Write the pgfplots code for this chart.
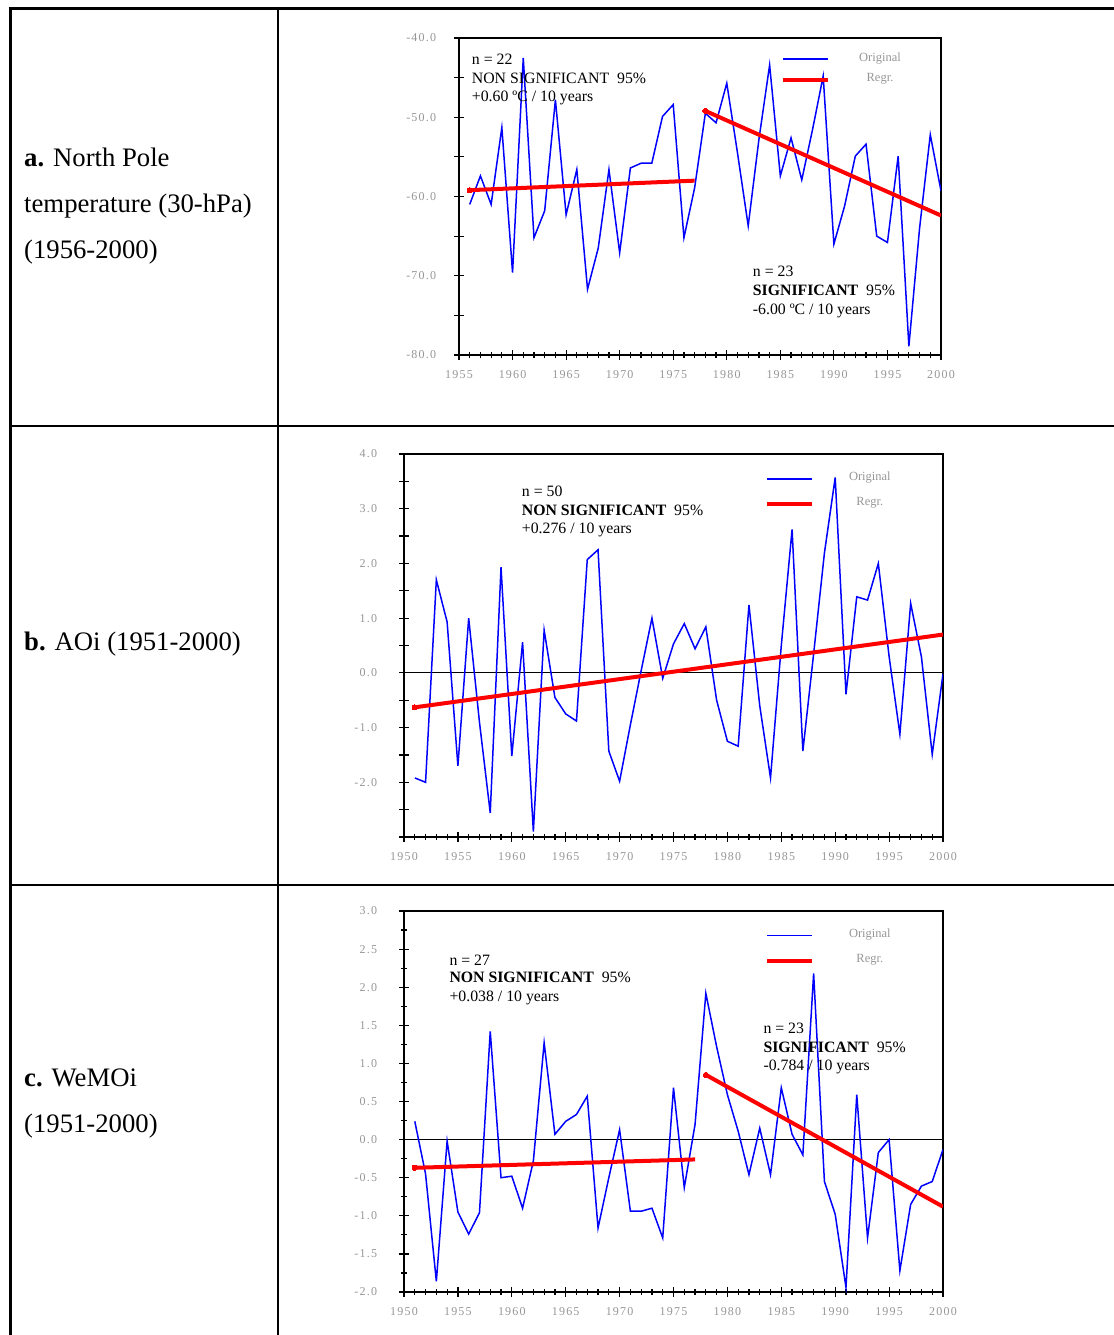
\documentclass[border=0pt]{standalone}
\usepackage{fontspec}
\setmainfont{Liberation Serif}
\newfontfamily\tickfont[LetterSpace=10]{Liberation Serif}
\usepackage{pgfplots}
\pgfplotsset{compat=1.18}

\definecolor{myblue}{RGB}{0,0,255}
\definecolor{myred}{RGB}{255,0,0}
\definecolor{tickgray}{RGB}{150,150,150}

\newcommand\labfont{\fontsize{26.7bp}{30bp}\selectfont}
\newcommand\annfont{\fontsize{15.8bp}{19bp}\selectfont}
\newcommand\legfont{\fontsize{12.5bp}{14bp}\selectfont}
\newcommand\tickfs{\tickfont\fontsize{12bp}{14bp}\selectfont}

\pgfplotsset{
  panel/.style={
    scale only axis, anchor=south west,
    axis line style={line width=1.6bp, black},
    tick align=center, tick pos=left,
    major tick length=9.5bp, minor tick length=6bp,
    every tick/.style={black, line width=1.2bp},
    /pgf/number format/assume math mode=true,
    ticklabel style={font=\tickfs, text=tickgray, inner sep=0pt},
    xticklabel style={anchor=north, yshift=-11bp},
    minor x tick num=4,
    legend image code/.code={\draw[##1] (0bp,0bp) -- (45bp,0bp);},
    legend style={draw=none, fill=none, inner sep=0pt, outer sep=0pt,
      anchor=north west, font=\legfont, text=tickgray,
      nodes={inner sep=0pt, text height=5bp, text depth=1bp}},
    legend cell align=center,
  },
  regr/.style={myred, line width=4bp, mark=*, mark indices={1}, mark size=2.6bp,
    mark options={solid, fill=myred, draw=myred, line width=0pt}},
}

\begin{document}
\begin{tikzpicture}
\useasboundingbox (0,0) rectangle (1114bp,-1335bp);
% table rules
\draw[line width=3bp] (10bp,-7bp) -- (10bp,-1335bp);
\draw[line width=3bp] (8.5bp,-8.5bp) -- (1114bp,-8.5bp);
\draw[line width=2bp] (277.5bp,-8.5bp) -- (277.5bp,-1335bp);
\draw[line width=2bp] (10bp,-425.5bp) -- (1114bp,-425.5bp);
\draw[line width=2bp] (10bp,-884.5bp) -- (1114bp,-884.5bp);

% row labels
\node[anchor=base west, inner sep=0pt, font=\labfont] at (24bp,-166bp) {\textbf{a.} North Pole};
\node[anchor=base west, inner sep=0pt, font=\labfont] at (24bp,-212bp) {temperature (30-hPa)};
\node[anchor=base west, inner sep=0pt, font=\labfont] at (24bp,-258bp) {(1956-2000)};
\node[anchor=base west, inner sep=0pt, font=\labfont] at (24bp,-650bp) {\textbf{b.} AOi (1951-2000)};
\node[anchor=base west, inner sep=0pt, font=\labfont] at (24bp,-1086bp) {\textbf{c.} WeMOi};
\node[anchor=base west, inner sep=0pt, font=\labfont] at (24bp,-1132bp) {(1951-2000)};

% ---------------- a ----------------
\begin{axis}[panel, at={(459bp,-355bp)}, width=482bp, height=317bp,
  xmin=1955, xmax=2000, ymin=-80, ymax=-40,
  xtick={1955,1960,...,2000},
  xticklabels={1955,1960,1965,1970,1975,1980,1985,1990,1995,2000},
  ytick={-80,-75,...,-40},
  yticklabels={-80.0,{},-70.0,{},-60.0,{},-50.0,{},-40.0},
  yticklabel style={anchor=east, xshift=-18bp},
  legend style={at={(0.6674,0.943)}, column sep=29.5bp, row sep=14.5bp}]
\addplot[myblue, line width=1.5bp] table[row sep=\\] {
x y\\
1956 -61.0\\ 1957 -57.4\\ 1958 -61.0\\ 1959 -51.3\\ 1960 -69.6\\
1961 -42.5\\ 1962 -65.2\\ 1963 -61.8\\ 1964 -47.8\\ 1965 -62.3\\
1966 -56.6\\ 1967 -71.7\\ 1968 -66.5\\ 1969 -56.6\\ 1970 -67.1\\
1971 -56.4\\ 1972 -55.8\\ 1973 -55.8\\ 1974 -49.9\\ 1975 -48.4\\
1976 -65.2\\ 1977 -58.9\\ 1978 -49.5\\ 1979 -50.7\\ 1980 -45.7\\
1981 -54.5\\ 1982 -63.7\\ 1983 -52.8\\ 1984 -43.4\\ 1985 -57.4\\
1986 -52.6\\ 1987 -57.9\\ 1988 -51.6\\ 1989 -44.8\\ 1990 -66.0\\
1991 -61.2\\ 1992 -54.9\\ 1993 -53.4\\ 1994 -65.0\\ 1995 -65.8\\
1996 -54.9\\ 1997 -78.9\\ 1998 -64.0\\ 1999 -52.2\\ 2000 -59.3\\
};
\addlegendentry{Original}
\addplot[regr] coordinates {(1956,-59.2) (1977,-58.0)};
\addlegendentry{Regr.}
\addplot[regr, forget plot] coordinates {(1978,-49.2) (2000,-62.4)};
\end{axis}

% ---------------- b ----------------
\begin{axis}[panel, at={(404bp,-837bp)}, width=539bp, height=383bp,
  xmin=1950, xmax=2000, ymin=-3, ymax=4,
  xtick={1950,1955,...,2000},
  xticklabels={1950,1955,1960,1965,1970,1975,1980,1985,1990,1995,2000},
  ytick={-3,-2.5,...,4},
  yticklabels={{},{},-2.0,{},-1.0,{},0.0,{},1.0,{},2.0,{},3.0,{},4.0},
  yticklabel style={anchor=east, xshift=-22bp},
  legend style={at={(0.6698,0.943)}, column sep=35bp, row sep=19bp}]
\addplot[black, line width=1.2bp, forget plot] coordinates {(1950,0) (2000,0)};
\addplot[myblue, line width=1.5bp] table[row sep=\\] {
x y\\
1951 -1.92\\ 1952 -2.00\\ 1953 1.70\\ 1954 0.93\\ 1955 -1.70\\
1956 1.00\\ 1957 -0.90\\ 1958 -2.56\\ 1959 1.93\\ 1960 -1.52\\
1961 0.56\\ 1962 -2.90\\ 1963 0.78\\ 1964 -0.45\\ 1965 -0.75\\
1966 -0.88\\ 1967 2.07\\ 1968 2.25\\ 1969 -1.43\\ 1970 -1.98\\
1971 -0.95\\ 1972 0.04\\ 1973 1.00\\ 1974 -0.10\\ 1975 0.53\\
1976 0.90\\ 1977 0.44\\ 1978 0.84\\ 1979 -0.50\\ 1980 -1.25\\
1981 -1.34\\ 1982 1.24\\ 1983 -0.60\\ 1984 -1.92\\ 1985 0.50\\
1986 2.62\\ 1987 -1.43\\ 1988 0.35\\ 1989 2.19\\ 1990 3.57\\
1991 -0.39\\ 1992 1.39\\ 1993 1.33\\ 1994 2.00\\ 1995 0.30\\
1996 -1.12\\ 1997 1.27\\ 1998 0.29\\ 1999 -1.49\\ 2000 -0.02\\
};
\addlegendentry{Original}
\addplot[regr] coordinates {(1951,-0.63) (2000,0.70)};
\addlegendentry{Regr.}
\end{axis}

% ---------------- c ----------------
\begin{axis}[panel, at={(404bp,-1292bp)}, width=539bp, height=381bp,
  xmin=1950, xmax=2000, ymin=-2, ymax=3,
  xtick={1950,1955,...,2000},
  xticklabels={1950,1955,1960,1965,1970,1975,1980,1985,1990,1995,2000},
  ytick={-2,-1.5,...,3}, minor y tick num=1,
  yticklabels={-2.0,-1.5,-1.0,-0.5,0.0,0.5,1.0,1.5,2.0,2.5,3.0},
  yticklabel style={anchor=east, xshift=-22bp},
  legend style={at={(0.6698,0.943)}, column sep=35bp, row sep=19bp}]
\addplot[black, line width=1.2bp, forget plot] coordinates {(1950,0) (2000,0)};
\addplot[myblue, line width=1.5bp] table[row sep=\\] {
x y\\
1951 0.24\\ 1952 -0.45\\ 1953 -1.86\\ 1954 -0.02\\ 1955 -0.95\\
1956 -1.24\\ 1957 -0.96\\ 1958 1.42\\ 1959 -0.50\\ 1960 -0.48\\
1961 -0.90\\ 1962 -0.28\\ 1963 1.27\\ 1964 0.07\\ 1965 0.24\\
1966 0.33\\ 1967 0.57\\ 1968 -1.16\\ 1969 -0.50\\ 1970 0.13\\
1971 -0.94\\ 1972 -0.94\\ 1973 -0.90\\ 1974 -1.29\\ 1975 0.68\\
1976 -0.63\\ 1977 0.20\\ 1978 1.92\\ 1979 1.22\\ 1980 0.59\\
1981 0.11\\ 1982 -0.46\\ 1983 0.15\\ 1984 -0.46\\ 1985 0.68\\
1986 0.07\\ 1987 -0.20\\ 1988 2.18\\ 1989 -0.55\\ 1990 -0.98\\
1991 -1.94\\ 1992 0.59\\ 1993 -1.29\\ 1994 -0.17\\ 1995 0.00\\
1996 -1.72\\ 1997 -0.85\\ 1998 -0.61\\ 1999 -0.55\\ 2000 -0.13\\
};
\addlegendentry{Original}
\addplot[regr] coordinates {(1951,-0.37) (1977,-0.26)};
\addlegendentry{Regr.}
\addplot[regr, forget plot] coordinates {(1978,0.85) (2000,-0.88)};
\end{axis}

% annotations
\node[anchor=base west, inner sep=0pt, font=\annfont] at (471.7bp,-64.5bp) {n = 22};
\node[anchor=base west, inner sep=0pt, font=\annfont] at (471.7bp,-83bp) {NON SIGNIFICANT\ \ 95\%};
\node[anchor=base west, inner sep=0pt, font=\annfont] at (471.7bp,-101.5bp) {+0.60 ºC / 10 years};
\node[anchor=base west, inner sep=0pt, font=\annfont] at (752.7bp,-276.5bp) {n = 23};
\node[anchor=base west, inner sep=0pt, font=\annfont] at (752.7bp,-295.5bp) {\textbf{SIGNIFICANT}\ \ 95\%};
\node[anchor=base west, inner sep=0pt, font=\annfont] at (752.7bp,-314.5bp) {-6.00 ºC / 10 years};

\node[anchor=base west, inner sep=0pt, font=\annfont] at (521.7bp,-496.5bp) {n = 50};
\node[anchor=base west, inner sep=0pt, font=\annfont] at (521.7bp,-515bp) {\textbf{NON SIGNIFICANT}\ \ 95\%};
\node[anchor=base west, inner sep=0pt, font=\annfont] at (521.7bp,-533.5bp) {+0.276 / 10 years};

\node[anchor=base west, inner sep=0pt, font=\annfont] at (449.3bp,-965bp) {n = 27};
\node[anchor=base west, inner sep=0pt, font=\annfont] at (449.3bp,-982.5bp) {\textbf{NON SIGNIFICANT}\ \ 95\%};
\node[anchor=base west, inner sep=0pt, font=\annfont] at (449.3bp,-1001.5bp) {+0.038 / 10 years};
\node[anchor=base west, inner sep=0pt, font=\annfont] at (763.3bp,-1033.5bp) {n = 23};
\node[anchor=base west, inner sep=0pt, font=\annfont] at (763.3bp,-1052bp) {\textbf{SIGNIFICANT}\ \ 95\%};
\node[anchor=base west, inner sep=0pt, font=\annfont] at (763.3bp,-1070.5bp) {-0.784 / 10 years};
\end{tikzpicture}
\end{document}
